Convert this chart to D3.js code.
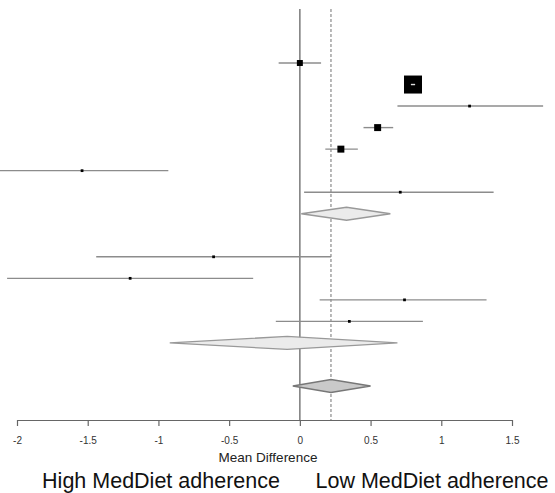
<!DOCTYPE html>
<html>
<head>
<meta charset="utf-8">
<script src="https://cdn.jsdelivr.net/npm/d3@7"></script>
<style>
  body { margin: 0; background: #fff; }
  svg { display: block; font-family: Arial, 'Liberation Sans', sans-serif; }
</style>
</head>
<body>
<div id="chart"></div>
<script>
// study rows (row index, mean difference, CI, weight)
var studyRow = [0, 1, 2, 3, 4, 5, 6, 9, 10, 11, 12]
var studyEst = [0, 0.80, 1.20, 0.55, 0.29, -1.54, 0.71, -0.61, -1.20, 0.74, 0.35]
var studyLo = [-0.15, 0.785, 0.69, 0.45, 0.18, -2.15, 0.03, -1.44, -2.07, 0.14, -0.17]
var studyHi = [0.15, 0.815, 1.72, 0.66, 0.41, -0.93, 1.37, 0.22, -0.33, 1.32, 0.87]
var studyWeight = [3.3, 30, 0.7, 4.5, 4.5, 0.7, 0.7, 0.7, 0.7, 0.7, 0.7]

// pooled estimates (diamonds)
var poolRow = [7, 13, 15]
var poolEst = [0.33, -0.09, 0.22]
var poolLo = [0.01, -0.92, -0.05]
var poolHi = [0.64, 0.69, 0.50]

var overall = 0.22
var xTicks = [-2, -1.5, -1, -0.5, 0, 0.5, 1, 1.5]

var width = 555
var height = 493

var svg = d3.select('#chart')
  .append('svg')
  .attr('width', width)
  .attr('height', height)

var x = d3.scaleLinear().domain([-2, 1.5]).range([17, 512])
var y = d3.scaleLinear().domain([0, 15]).range([63, 386])
var side = d3.scaleSqrt().domain([0, 30]).range([0, 18])

var axisY = 420

// reference lines
svg.append('line')
  .attr('x1', x(0)).attr('x2', x(0))
  .attr('y1', 9).attr('y2', axisY)
  .attr('stroke', '#7a7a7a')
  .attr('stroke-width', 1.5)

svg.append('line')
  .attr('x1', x(overall)).attr('x2', x(overall))
  .attr('y1', 9).attr('y2', axisY)
  .attr('stroke', '#8a8a8a')
  .attr('stroke-width', 1.2)
  .attr('stroke-dasharray', '3,2')

var studies = studyRow.map(function (r, i) {
  return { row: r, est: studyEst[i], lo: studyLo[i], hi: studyHi[i], w: studyWeight[i] }
})

var pools = poolRow.map(function (r, i) {
  return { row: r, est: poolEst[i], lo: poolLo[i], hi: poolHi[i] }
})

// confidence intervals
svg.selectAll('.ci')
  .data(studies)
  .enter()
  .append('line')
  .attr('class', 'ci')
  .attr('x1', d => x(d.lo))
  .attr('x2', d => x(d.hi))
  .attr('y1', d => y(d.row))
  .attr('y2', d => y(d.row))
  .attr('stroke', '#8c8c8c')
  .attr('stroke-width', 1.4)

// weighted squares
svg.selectAll('.box')
  .data(studies)
  .enter()
  .append('rect')
  .attr('class', 'box')
  .attr('x', d => x(d.est) - side(d.w) / 2)
  .attr('y', d => y(d.row) - side(d.w) / 2)
  .attr('width', d => side(d.w))
  .attr('height', d => side(d.w))
  .attr('fill', '#000')

// CI drawn inside the big square shows as white
svg.selectAll('.ci-in')
  .data(studies.filter(d => side(d.w) > 12))
  .enter()
  .append('line')
  .attr('class', 'ci-in')
  .attr('x1', d => x(d.lo))
  .attr('x2', d => x(d.hi))
  .attr('y1', d => y(d.row))
  .attr('y2', d => y(d.row))
  .attr('stroke', '#ddd')
  .attr('stroke-width', 1.4)

// diamonds
svg.selectAll('.diamond')
  .data(pools)
  .enter()
  .append('path')
  .attr('class', 'diamond')
  .attr('d', function (d) {
    var cy = y(d.row)
    var h = 6.5
    return 'M' + x(d.lo) + ',' + cy +
      'L' + x(d.est) + ',' + (cy - h) +
      'L' + x(d.hi) + ',' + cy +
      'L' + x(d.est) + ',' + (cy + h) + 'Z'
  })
  .attr('fill', (d, i) => i === 2 ? '#c9c9c9' : '#ebebeb')
  .attr('stroke', (d, i) => i === 2 ? '#777' : '#999')
  .attr('stroke-width', 1.3)

// x axis
var axis = svg.append('g')
  .attr('transform', 'translate(0,' + axisY + ')')
  .call(d3.axisBottom(x).tickValues(xTicks).tickSize(6).tickSizeOuter(0)
    .tickFormat(d => d3.format('')(d).replace('−', '-')))

axis.select('.domain').attr('stroke', '#666').attr('stroke-width', 1.2)
axis.selectAll('.tick line').attr('stroke', '#666').attr('stroke-width', 1.2)
axis.selectAll('.tick text')
  .attr('font-size', 10)
  .attr('fill', '#333')
  .attr('dy', '1.05em')
  .attr('y', 13)

svg.append('text')
  .attr('x', 268)
  .attr('y', 462)
  .attr('text-anchor', 'middle')
  .attr('font-size', 13.5)
  .attr('fill', '#222')
  .text('Mean Difference')

svg.append('text')
  .attr('x', 161)
  .attr('y', 488)
  .attr('text-anchor', 'middle')
  .attr('font-size', 21.5)
  .attr('fill', '#111')
  .text('High MedDiet adherence')

svg.append('text')
  .attr('x', 432)
  .attr('y', 488)
  .attr('text-anchor', 'middle')
  .attr('font-size', 21.5)
  .attr('fill', '#111')
  .text('Low MedDiet adherence')
</script>
</body>
</html>
